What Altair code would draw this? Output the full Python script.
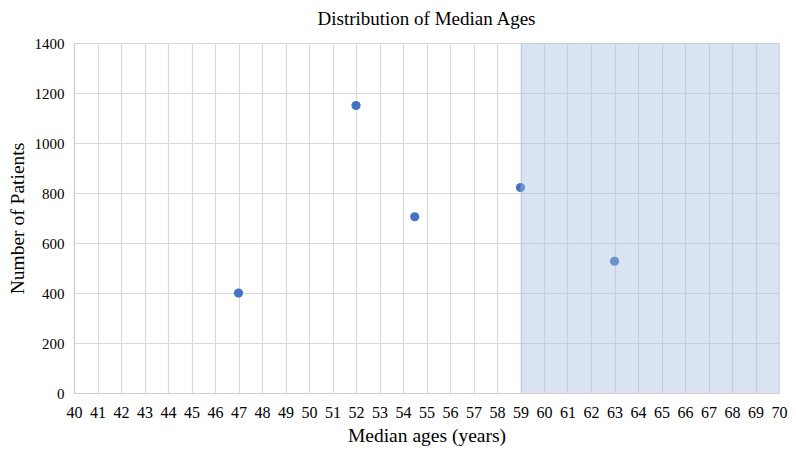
import altair as alt
import pandas as pd

ages = [47, 52, 54.5, 59, 63]
patients = [400, 1150, 705, 822, 527]
shade_start = [59]
shade_end = [70]

df = pd.DataFrame({"age": ages, "patients": patients})
shade = pd.DataFrame({"x": shade_start, "x2": shade_end, "y": [0], "y2": [1400]})

FONT = "Liberation Serif"

x_scale = alt.Scale(domain=[40, 70], nice=False, zero=False)
y_scale = alt.Scale(domain=[0, 1400], nice=False)

x_axis = alt.Axis(title="Median ages (years)", values=list(range(40, 71)),
                  format="d", labelOverlap=False, labelFlush=False,
                  grid=True, ticks=False, labelPadding=11,
                  titlePadding=6, labelFont=FONT, titleFont=FONT,
                  labelFontSize=16, titleFontSize=19.5)
y_axis = alt.Axis(title="Number of Patients", values=list(range(0, 1401, 200)),
                  format="d", labelOverlap=False, labelFlush=False,
                  grid=True, ticks=False, labelPadding=10,
                  titleX=-57, titleY=175, titleAlign="center",
                  titleBaseline="middle", titleAngle=270,
                  labelFont=FONT, titleFont=FONT,
                  labelFontSize=15, titleFontSize=19.5)

points = alt.Chart(df).mark_circle(size=85, color="#4472C4", opacity=1).encode(
    x=alt.X("age:Q", scale=x_scale, axis=x_axis, title="Median ages (years)"),
    y=alt.Y("patients:Q", scale=y_scale, axis=y_axis, title="Number of Patients"),
)

rect = alt.Chart(shade).mark_rect(color="#a8bce0", opacity=0.42).encode(
    x=alt.X("x:Q", scale=x_scale, axis=x_axis, title="Median ages (years)"), x2="x2:Q",
    y=alt.Y("y:Q", scale=y_scale, axis=y_axis, title="Number of Patients"), y2="y2:Q"
)

chart = (points + rect).properties(
    width=705, height=350,
    title=alt.TitleParams("Distribution of Median Ages", font=FONT, fontSize=19,
                          fontWeight="normal", color="#000000", offset=7, anchor="middle"),
    padding={"left": 66, "top": 35, "right": 9, "bottom": 57},
    autosize=alt.AutoSizeParams(type="none"),
).configure(font=FONT).configure_view(stroke="#d9d9d9", strokeWidth=1).configure_axis(
    labelFont=FONT, titleFont=FONT,
    titleFontWeight="normal", labelColor="#000000", titleColor="#000000",
    gridColor="#d9d9d9", gridWidth=1.2, domainColor="#cfcfcf", domainWidth=1.2,
)

chart.save("out.html", embed_options={"renderer": "svg", "actions": False})
